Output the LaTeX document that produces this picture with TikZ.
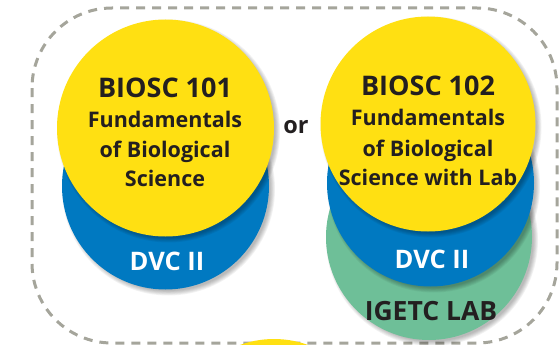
\documentclass[tikz,border=0pt]{standalone}
\usepackage{fontspec}
\setmainfont{Open Sans}
\definecolor{cyel}{RGB}{255,224,18}
\definecolor{cblue}{RGB}{0,121,193}
\definecolor{cgreen}{RGB}{110,191,152}
\definecolor{ctext}{RGB}{35,31,32}
\definecolor{cdash}{RGB}{165,165,155}
\tikzset{
  disc/.style={circle, inner sep=0pt, minimum size=#1},
  shade1/.style={fill=black, opacity=0.05},
  bigtitle/.style={font=\bfseries\fontsize{27}{30}\selectfont, text=ctext, anchor=base},
  subline/.style={font=\bfseries\fontsize{21.5}{24}\selectfont, text=ctext, anchor=base},
  dvclabel/.style={font=\bfseries\fontsize{25.5}{28}\selectfont, text=white, anchor=base},
  lablabel/.style={font=\bfseries\fontsize{26.5}{29}\selectfont, text=ctext, anchor=base},
  border/.style={draw=cdash, line width=3pt, dash pattern=on 9pt off 7pt, rounded corners=80pt},
}
\newcommand\softshadow[3]{%
  \foreach \k in {0,...,5}{\fill[shade1] (#1+3,#2+3) circle[radius={(#3+\k*0.9-1.5)*1pt}];}%
}
\begin{document}
\begin{tikzpicture}[x=1pt,y=-1pt]
\useasboundingbox (0,0) rectangle (559,345);
\begin{scope}
\clip (0,0) rectangle (559,345);
% dashed frame
\draw[border] (32,8) rectangle (557,343);
% bottom partial circle
\node[disc=200pt, fill=cyel] (bottomdisc) at (274,439) {};
\end{scope}
% left stack
\softshadow{165.5}{186}{103.5}
\node[disc=207pt, fill=cblue] (lblue) at (165.5,186) {};
\softshadow{165.5}{128}{108.5}
\node[disc=217pt, fill=cyel] (lyel) at (165.5,128) {};
% right stack
\softshadow{429}{237}{103}
\node[disc=206pt, fill=cgreen] (rgreen) at (429,237) {};
\softshadow{430.5}{183}{103.5}
\node[disc=207pt, fill=cblue] (rblue) at (430.5,183) {};
\softshadow{428}{124}{107.5}
\node[disc=215pt, fill=cyel] (ryel) at (428,124) {};
% left texts
\node[bigtitle] (l1) at (165,97) {BIOSC 101};
\node[subline] (l2) at (165,127) {Fundamentals};
\node[subline] (l3) at (165,157) {of Biological};
\node[subline] (l4) at (165,186) {Science};
\node[dvclabel] (l5) at (167,270) {DVC II};
% right texts
\node[bigtitle] (r1) at (428,95) {BIOSC 102};
\node[subline] (r2) at (428,125) {Fundamentals};
\node[subline] (r3) at (428,156) {of Biological};
\node[subline] (r4) at (428,185) {Science with Lab};
\node[dvclabel] (r5) at (432,268) {DVC II};
\node[lablabel] (r6) at (431,320) {IGETC LAB};
% or
\node[font=\bfseries\fontsize{23.5}{26}\selectfont, text=ctext, anchor=base] (orl) at (296,133) {or};
\end{tikzpicture}
\end{document}
